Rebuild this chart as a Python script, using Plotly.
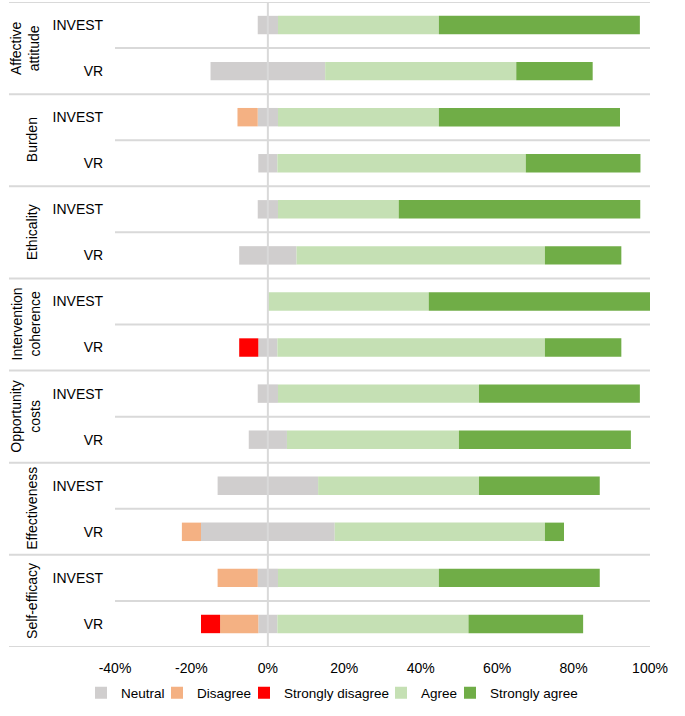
import plotly.graph_objects as go

# constructs (top to bottom), each with an INVEST and a VR row
constructs = ["Affective<br>attitude", "Burden", "Ethicality", "Intervention<br>coherence",
              "Opportunity<br>costs", "Effectiveness", "Self-efficacy"]
groups = ["INVEST", "VR"]

# percentages per row, order: AA-INVEST, AA-VR, Burden-INVEST, Burden-VR, ...
neutral = [5.3, 30, 5.3, 5, 5.3, 15, 0, 5, 5.3, 10, 26.3, 35, 5.3, 5]
disagree = [0, 0, 5.3, 0, 0, 0, 0, 0, 0, 0, 0, 5, 10.5, 10]
strongly_disagree = [0, 0, 0, 0, 0, 0, 0, 5, 0, 0, 0, 0, 0, 5]
agree = [42.1, 50, 42.1, 65, 31.6, 65, 42.1, 70, 52.6, 45, 42.1, 55, 42.1, 50]
strongly_agree = [52.6, 20, 47.4, 30, 63.2, 20, 57.9, 20, 42.1, 45, 31.6, 5, 42.1, 30]

x_ticks = [-40, -20, 0, 20, 40, 60, 80, 100]

rows = list(range(len(neutral)))
row_labels = [groups[i % 2] for i in rows]

W, H = 685, 716
L, R = 115, 35
pw = W - L - R
fig = go.Figure()
w = 0.4
half = [v / 2 for v in neutral]
fig.add_trace(go.Bar(y=rows, x=[-v for v in half], orientation="h", name="Neutral",
                     marker_color="#D0CECE", width=w, legend="legend"))
fig.add_trace(go.Bar(y=rows, x=half, orientation="h", name="Neutral", showlegend=False,
                     marker_color="#D0CECE", width=w))
fig.add_trace(go.Bar(y=rows, x=[-v for v in disagree], orientation="h", name="Disagree",
                     marker_color="#F4B183", width=w, legend="legend2"))
fig.add_trace(go.Bar(y=rows, x=[-v for v in strongly_disagree], orientation="h",
                     name="Strongly disagree", marker_color="#FF0000", width=w, legend="legend3"))
fig.add_trace(go.Bar(y=rows, x=agree, orientation="h", name="Agree",
                     marker_color="#C5E0B4", width=w, legend="legend4"))
fig.add_trace(go.Bar(y=rows, x=strongly_agree, orientation="h", name="Strongly agree",
                     marker_color="#70AD47", width=w, legend="legend5"))
fig.update_traces(marker_line_width=0, hoverinfo="x+y")

grid = "#D9D9D9"
shapes = []
for b in range(len(rows) + 1):
    x0 = (9 - L) / pw if b % 2 == 0 else 0
    shapes.append(dict(type="line", xref="paper", yref="y", x0=x0, x1=1,
                       y0=b - 0.5, y1=b - 0.5, line=dict(color=grid, width=2)))
shapes.append(dict(type="line", xref="x", yref="paper", x0=0, x1=0, y0=0, y1=1,
                   layer="above", line=dict(color=grid, width=2)))

annotations = []
for i, c in enumerate(constructs):
    cx = 25 if "<br>" in c else 32
    annotations.append(dict(text=c, xref="paper", yref="y", x=(cx - L) / pw, y=2 * i + 0.5,
                            textangle=-90, showarrow=False, xanchor="center", yanchor="middle",
                            font=dict(size=14, color="#000000")))

# one legend box per entry so the row can sit like the original
legend_left = [81, 157, 244, 381, 450]
legends = {}
for k, px in enumerate(legend_left):
    key = "legend" if k == 0 else f"legend{k + 1}"
    legends[key] = dict(orientation="h", xref="container", yref="container",
                        x=px / W, xanchor="left", y=1 - 693 / H, yanchor="middle",
                        font=dict(size=13.5), itemwidth=30, bgcolor="rgba(0,0,0,0)")

fig.update_layout(
    width=W, height=H,
    margin=dict(l=L, r=R, t=2, b=69, autoexpand=False),
    barmode="relative",
    plot_bgcolor="white", paper_bgcolor="white",
    font=dict(family="Liberation Sans, Arial, sans-serif", size=14, color="#000000"),
    shapes=shapes, annotations=annotations,
    showlegend=True,
    xaxis=dict(range=[-40, 100], tickvals=x_ticks, ticktext=[f"{t}%" for t in x_ticks],
               showgrid=False, zeroline=False, showline=False, fixedrange=True,
               ticks="outside", ticklen=8, tickcolor="rgba(0,0,0,0)"),
    yaxis=dict(range=[len(rows) - 0.5, -0.5], tickvals=rows, ticktext=row_labels,
               showgrid=False, zeroline=False, showline=False, ticks="outside",
               ticklen=8, tickcolor="rgba(0,0,0,0)", fixedrange=True),
    **legends,
)

fig.write_html("out.html", config={"displayModeBar": False},
               post_script="document.body.style.margin='0';")
